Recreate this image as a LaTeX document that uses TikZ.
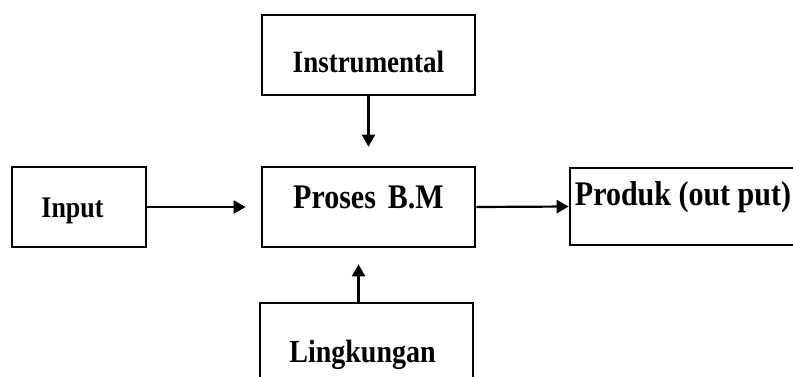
\documentclass[tikz,border=0pt]{standalone}
\usepackage{fontspec}
\setmainfont{Liberation Serif}
\usetikzlibrary{arrows.meta}
\newcommand{\tallt}[1]{\scalebox{1}[1.15]{#1}}
\begin{document}
\begin{tikzpicture}[x=1pt,y=-1pt,
  blk/.style={draw=black,line width=2.6pt,rectangle,inner sep=0pt,
    text height=0pt,text depth=0pt,font=\bfseries},
  conn/.style={line width=2.2pt,-{Triangle[length=12pt,width=13pt]}}]
\useasboundingbox (0,0) rectangle (793,376);
\clip (0,0) rectangle (793,376);
\node[blk,minimum width=134pt,minimum height=80pt] (input) at (79,207)
  {\fontsize{26}{30}\selectfont\raisebox{-10pt}{\kern-13pt\tallt{Input}}};
\node[blk,minimum width=213pt,minimum height=80pt] (instr) at (368.5,55)
  {\fontsize{27}{31}\selectfont\raisebox{-17pt}{\tallt{Instrumental}}};
\node[blk,minimum width=213pt,minimum height=80pt] (proses) at (368.5,207)
  {\fontsize{30}{34}\selectfont\raisebox{-1pt}{\tallt{Proses\hspace{12pt}B.M}}};
\node[blk,minimum width=250pt,minimum height=77pt] (produk) at (695,206.5)
  {\fontsize{30}{34}\selectfont\raisebox{1.5pt}{\kern-24pt\tallt{Produk (out put)}}};
\node[blk,minimum width=213pt,minimum height=98pt] (lingk) at (366.5,352)
  {\fontsize{28}{32}\selectfont\raisebox{-10pt}{\kern-8pt\tallt{Lingkungan}}};
\draw[conn,shorten >=15pt] (input.east) -- (proses.west);
\draw[conn] (proses.east) -- (produk.west);
\draw[conn,shorten >=19pt] (instr.south) -- (proses.north);
\draw[conn,shorten >=16pt] ([xshift=-8pt]lingk.north) -- ([xshift=-8pt]lingk.north |- proses.south);
\end{tikzpicture}
\end{document}
